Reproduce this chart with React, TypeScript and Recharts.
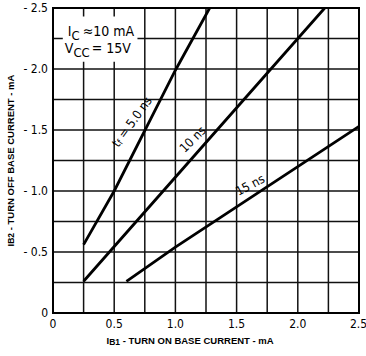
import React from 'react';
import {
  LineChart,
  Line,
  XAxis,
  YAxis,
  CartesianGrid,
  ReferenceArea,
  ReferenceDot,
} from 'recharts';

// Turn-on base current IB1 (mA) and turn-off base current IB2 (mA) for each fall time
const ib1Fall5 = [0.25, 0.5, 1.0, 1.28];
const ib2Fall5 = [-0.56, -1.0, -1.99, -2.5];

const ib1Fall10 = [0.25, 1.34, 2.22];
const ib2Fall10 = [-0.26, -1.5, -2.5];

const ib1Fall15 = [0.6, 1.0, 2.5];
const ib2Fall15 = [-0.26, -0.54, -1.53];

// Axis ticks and grid divisions
const xTicks = [0, 0.5, 1.0, 1.5, 2.0, 2.5];
const yTicks = [0, -0.5, -1.0, -1.5, -2.0, -2.5];
const xGrid = [0.25, 0.5, 0.75, 1.0, 1.25, 1.5, 1.75, 2.0, 2.25];
const yGrid = [-0.25, -0.5, -0.75, -1.0, -1.25, -1.5, -1.75, -2.0, -2.25];

// Curve captions: text, centre point (IB1, IB2) and tilt
const captionText = ['5.0 ns', '10 ns', '15 ns'];
const captionIb1 = [0.64, 1.14, 1.61];
const captionIb2 = [-1.57, -1.425, -1.05];
const captionAngle = [-54, -45, -28];

const toPoints = (xs: number[], ys: number[]) => xs.map((x, i) => ({ ib1: x, ib2: ys[i] }));

const fall5 = toPoints(ib1Fall5, ib2Fall5);
const fall10 = toPoints(ib1Fall10, ib2Fall10);
const fall15 = toPoints(ib1Fall15, ib2Fall15);

const tickFont = '"DejaVu Sans Condensed", "Liberation Sans Narrow", sans-serif';
const titleFont = '"Liberation Sans", Arial, sans-serif';

const fmtX = (v: number) => (v === 0 ? '0' : v.toFixed(1));
const fmtY = (v: number) => (v === 0 ? '0' : `- ${Math.abs(v).toFixed(1)}`);

const Caption = (props: any) => {
  const { viewBox, index } = props;
  const cx = viewBox.x + viewBox.width / 2;
  const cy = viewBox.y + viewBox.height / 2;
  const angle = captionAngle[index];
  return (
    <text
      x={cx}
      y={cy}
      textAnchor="middle"
      dominantBaseline="central"
      transform={`rotate(${angle}, ${cx}, ${cy})`}
      fontFamily={tickFont}
      fontSize={12.5}
      fill="#000"
    >
      {index === 0 ? (
        <>
          <tspan>t</tspan>
          <tspan fontSize={9} dy={3}>f</tspan>
          <tspan dy={-3}>{' = ' + captionText[index]}</tspan>
        </>
      ) : (
        captionText[index]
      )}
    </text>
  );
};

const Conditions = (props: any) => {
  const { viewBox } = props;
  const x = viewBox.x;
  const y = viewBox.y;
  return (
    <g fontFamily={tickFont} fill="#000">
      <text x={x + 5} y={y + 19} fontSize={14}>
        <tspan>I</tspan>
        <tspan fontSize={13} dy={4}>C</tspan>
        <tspan dy={-4} dx={3}>≈10 mA</tspan>
      </text>
      <text x={x + 2} y={y + 36} fontSize={14}>
        <tspan>V</tspan>
        <tspan fontSize={13} dy={4}>CC</tspan>
        <tspan dy={-4} dx={2}>= 15V</tspan>
      </text>
    </g>
  );
};

const XTitle = (props: any) => {
  const { viewBox } = props;
  const cx = viewBox.x + viewBox.width * 0.448;
  return (
    <text
      x={cx}
      y={viewBox.y + 31}
      textAnchor="middle"
      fontFamily={titleFont}
      fontWeight="bold"
      fontSize={9.5}
      fill="#000"
    >
      <tspan>I</tspan>
      <tspan fontSize={8.5} dy={1}>B1</tspan>
      <tspan dy={-1}> - TURN ON BASE CURRENT - mA</tspan>
    </text>
  );
};

const YTitle = (props: any) => {
  const { viewBox } = props;
  const cx = 10;
  const cy = viewBox.y + viewBox.height / 2;
  return (
    <text
      x={cx}
      y={cy}
      textAnchor="middle"
      dominantBaseline="central"
      transform={`rotate(-90, ${cx}, ${cy})`}
      fontFamily={titleFont}
      fontWeight="bold"
      fontSize={9.5}
      fill="#000"
    >
      <tspan>I</tspan>
      <tspan fontSize={8.5} dy={1}>B2</tspan>
      <tspan dy={-1}> - TURN OFF BASE CURRENT - mA</tspan>
    </text>
  );
};

export default function App() {
  return (
    <div style={{ position: 'absolute', left: 0, top: 0, background: '#fff' }}>
      <LineChart
        width={366}
        height={356}
        margin={{ top: 8, right: 7, bottom: 0, left: 0 }}
      >
        <CartesianGrid
          stroke="#111"
          strokeWidth={1.5}
          horizontalValues={yGrid}
          verticalValues={xGrid}
        />
        <XAxis
          type="number"
          dataKey="ib1"
          domain={[0, 2.5]}
          ticks={xTicks}
          tickFormatter={fmtX}
          height={43}
          tickSize={0}
          tickMargin={6}
          axisLine={false}
          tick={{ fill: '#000', fontSize: 12, fontFamily: tickFont }}
          allowDataOverflow
          label={{ content: <XTitle /> }}
        />
        <YAxis
          type="number"
          dataKey="ib2"
          domain={[-2.5, 0]}
          reversed
          ticks={yTicks}
          tickFormatter={fmtY}
          width={53}
          tickSize={0}
          tickMargin={5}
          axisLine={false}
          tick={{ fill: '#000', fontSize: 12, fontFamily: tickFont }}
          allowDataOverflow
          label={{ content: <YTitle /> }}
        />
        <ReferenceArea
          x1={0.08}
          x2={0.69}
          y1={-2.06}
          y2={-2.43}
          fill="#fff"
          fillOpacity={1}
          stroke="none"
          label={{ content: <Conditions /> }}
        />
        <ReferenceArea
          x1={0}
          x2={2.5}
          y1={-2.5}
          y2={0}
          fill="none"
          stroke="#000"
          strokeWidth={2}
        />
        <Line data={fall5} dataKey="ib2" type="linear" stroke="#000" strokeWidth={2.8} dot={false} isAnimationActive={false} />
        <Line data={fall10} dataKey="ib2" type="linear" stroke="#000" strokeWidth={2.8} dot={false} isAnimationActive={false} />
        <Line data={fall15} dataKey="ib2" type="linear" stroke="#000" strokeWidth={2.8} dot={false} isAnimationActive={false} />
        {captionText.map((_, i) => (
          <ReferenceDot
            key={i}
            x={captionIb1[i]}
            y={captionIb2[i]}
            r={1}
            fill="none"
            stroke="none"
            label={{ content: <Caption index={i} /> }}
          />
        ))}
      </LineChart>
    </div>
  );
}
